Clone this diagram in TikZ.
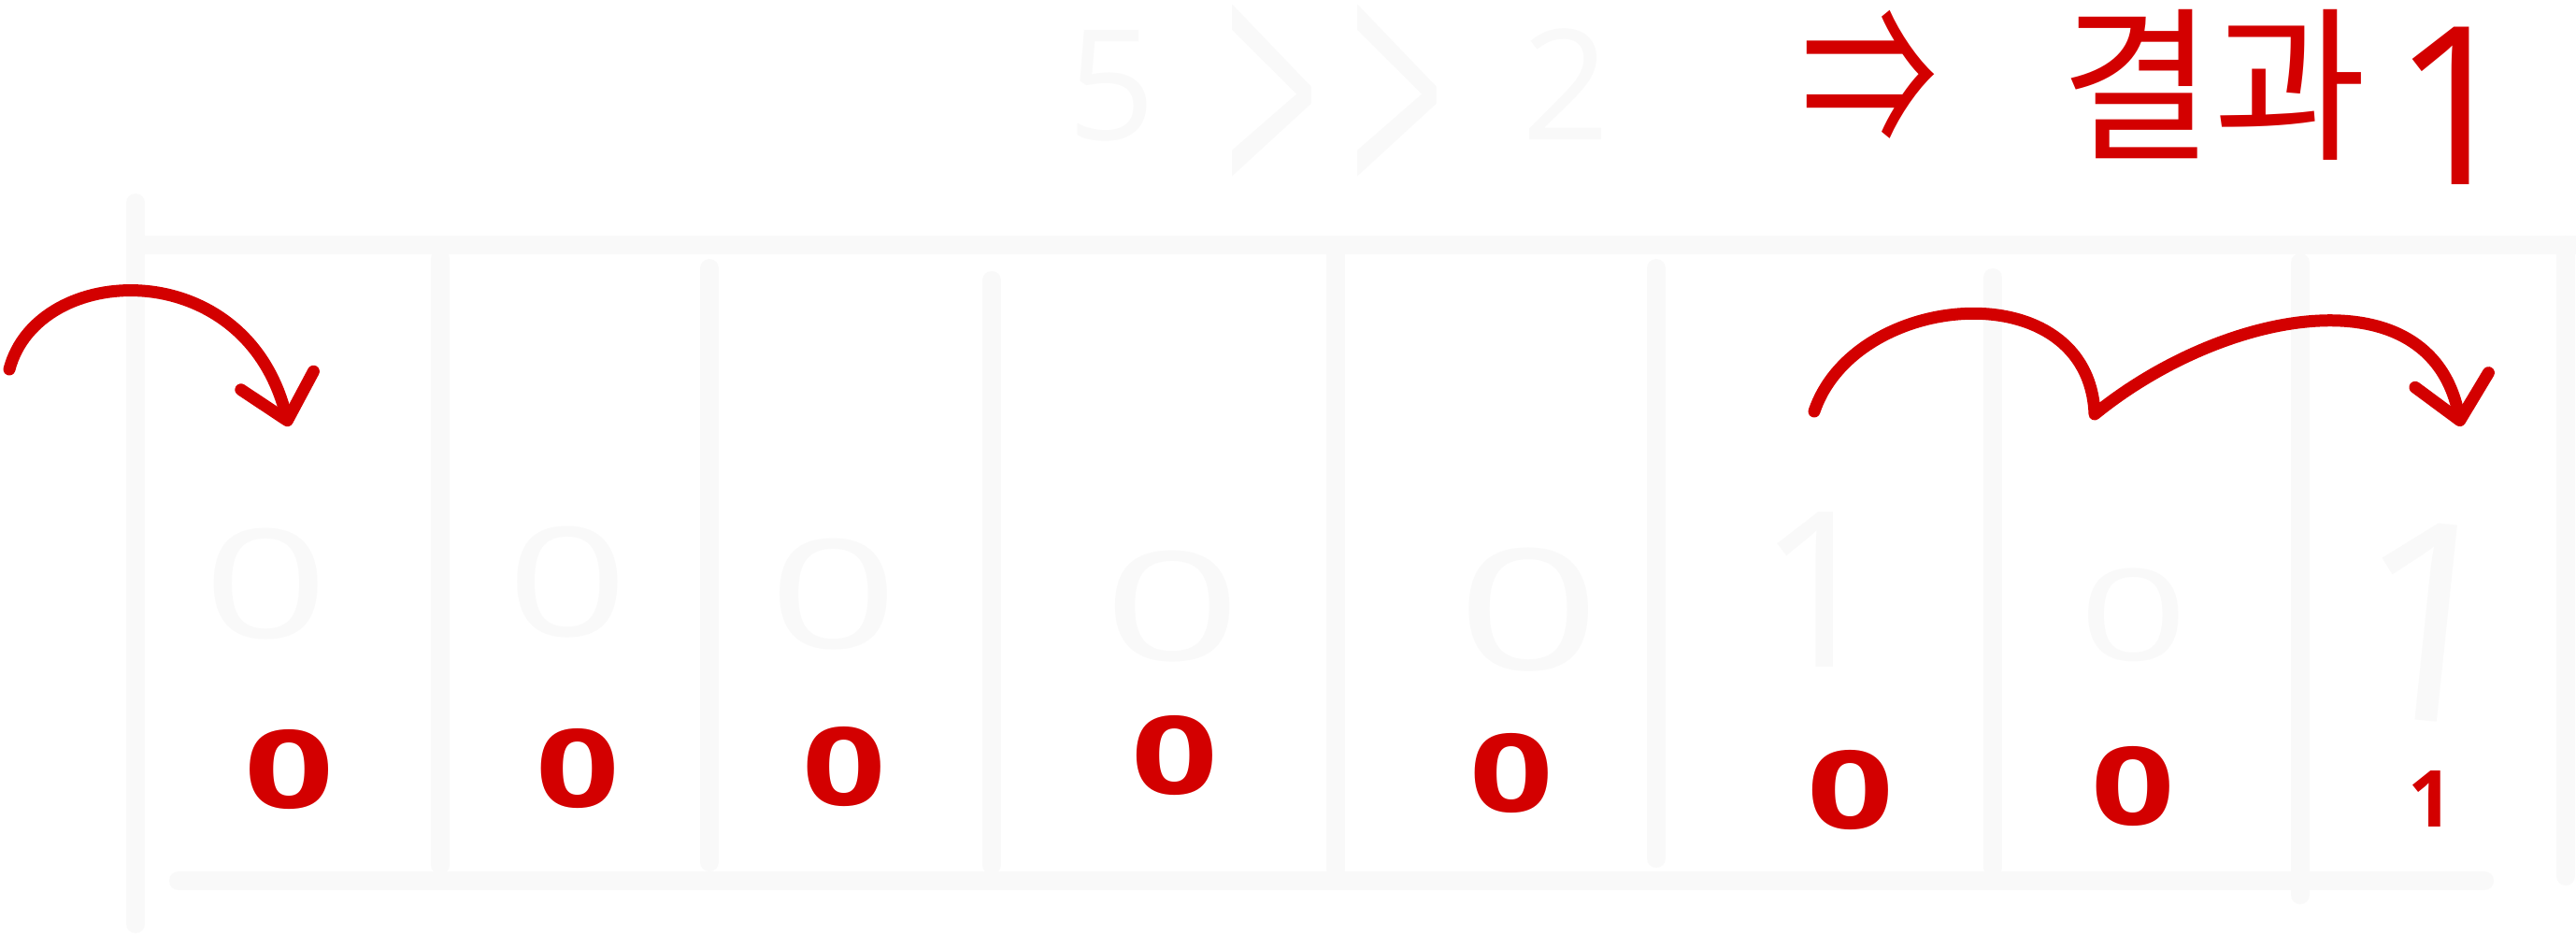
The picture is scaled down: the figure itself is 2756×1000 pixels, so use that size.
\documentclass[tikz,border=0pt]{standalone}
\usepackage{graphicx}
\usepackage{fontspec}
\setmainfont{Noto Sans CJK KR}
\newfontfamily\digitfont{Open Sans}
\usetikzlibrary{arrows.meta}
\definecolor{faint}{RGB}{249,249,249}
\definecolor{ink}{RGB}{211,0,0}
\begin{document}
\begin{tikzpicture}[x=0.5pt,y=-0.5pt,
  gridline/.style={draw=faint,line width=10pt,line cap=round},
  faintnum/.style={text=faint,inner sep=0pt,outer sep=0pt,font=\digitfont\fontsize{81}{81}\selectfont},
  bigone/.style={text=faint,inner sep=0pt,outer sep=0pt},
  rednum/.style={text=ink,inner sep=0pt,outer sep=0pt,font=\digitfont\bfseries\fontsize{58}{58}\selectfont},
  redtext/.style={text=ink,inner sep=0pt,outer sep=0pt},
  jump/.style={draw=ink,line width=6.5pt,line cap=round,line join=round,
    -{Straight Barb[length=22pt,width=40pt,line cap=round,line join=round]}}
]
\fill[white] (0,0) rectangle (2756,1000);
\useasboundingbox (0,0) rectangle (2756,1000);

% ---- faint grid ----
\draw[gridline] (145,217) -- (145,988);
\draw[gridline] (145,262) -- (2770,262);
\draw[gridline] (191,942) -- (2658,942);
\draw[gridline] (471,277) -- (471,925);
\draw[gridline] (759,287) -- (759,922);
\draw[gridline] (1061,300) -- (1061,925);
\draw[gridline] (1429,272) -- (1429,930);
\draw[gridline] (1772,287) -- (1772,918);
\draw[gridline] (2132,297) -- (2132,928);
\draw[gridline] (2461,281) -- (2461,957);
\draw[gridline] (2745,262) -- (2745,937);

% ---- faint texts ----
\node[faintnum,font=\digitfont\fontsize{82}{82}\selectfont,anchor=base] (expr) at (1432,150)
  {5\hspace{37pt}\raisebox{-42pt}{\scalebox{1.1}[2.3]{>}}\hspace{15pt}\raisebox{-42pt}{\scalebox{1.1}[2.3]{>}}\hspace{41pt}2};
\node[faintnum] (f1) at (285,625) {\scalebox{1.45}[1]{0}};
\node[faintnum] (f2) at (607,623) {\scalebox{1.4}[1]{0}};
\node[faintnum] (f3) at (892,636) {\scalebox{1.5}[1]{0}};
\node[faintnum] (f4) at (1255,649) {\scalebox{1.6}[1]{0}};
\node[faintnum,font=\digitfont\fontsize{90}{90}\selectfont] (f5) at (1636,652) {\scalebox{1.5}[1]{0}};
\node[bigone,font=\digitfont\fontsize{116}{116}\selectfont] (f6) at (1947,631) {1};
\node[faintnum,font=\digitfont\fontsize{68}{68}\selectfont] (f7) at (2283,658) {\scalebox{1.5}[1]{0}};
\node[bigone,font=\digitfont\fontsize{148}{148}\selectfont,rotate=-6] (f8) at (2600,665) {1};

% ---- red texts ----
\node[redtext,font=\fontsize{90}{90}\selectfont] (imp) at (2000,84) {\scalebox{0.81}[1.15]{⇒}};
\node[redtext,font=\fontsize{89}{89}\selectfont] (res) at (2368,91) {결과};
\node[redtext,font=\digitfont\fontsize{118}{118}\selectfont] (resv) at (2627,113) {1};

\node[rednum] (r1) at (310,823) {\scalebox{1.45}[1]{0}};
\node[rednum] (r2) at (618,822) {\scalebox{1.35}[1]{0}};
\node[rednum] (r3) at (903,820) {\scalebox{1.35}[1]{0}};
\node[rednum] (r4) at (1257,808) {\scalebox{1.4}[1]{0}};
\node[rednum] (r5) at (1617,827) {\scalebox{1.35}[1]{0}};
\node[rednum] (r6) at (1980,845) {\scalebox{1.4}[1]{0}};
\node[rednum] (r7) at (2282,841) {\scalebox{1.35}[1]{0}};
\node[rednum,font=\digitfont\bfseries\fontsize{42}{42}\selectfont] (r8) at (2600,855) {1};

% ---- red shift arrows ----
\coordinate (a1s) at (10,395);
\coordinate (a1e) at (309,456);
\draw[jump] (a1s) .. controls (40,280) and (262,270) .. (a1e);

\coordinate (a2s) at (1941,440);
\coordinate (a2m) at (2241,443);
\coordinate (a2e) at (2633,456);
\draw[jump] (a2s) .. controls (1985,310) and (2235,290) .. (a2m)
  .. controls (2380,330) and (2600,290) .. (a2e);
\end{tikzpicture}
\end{document}
